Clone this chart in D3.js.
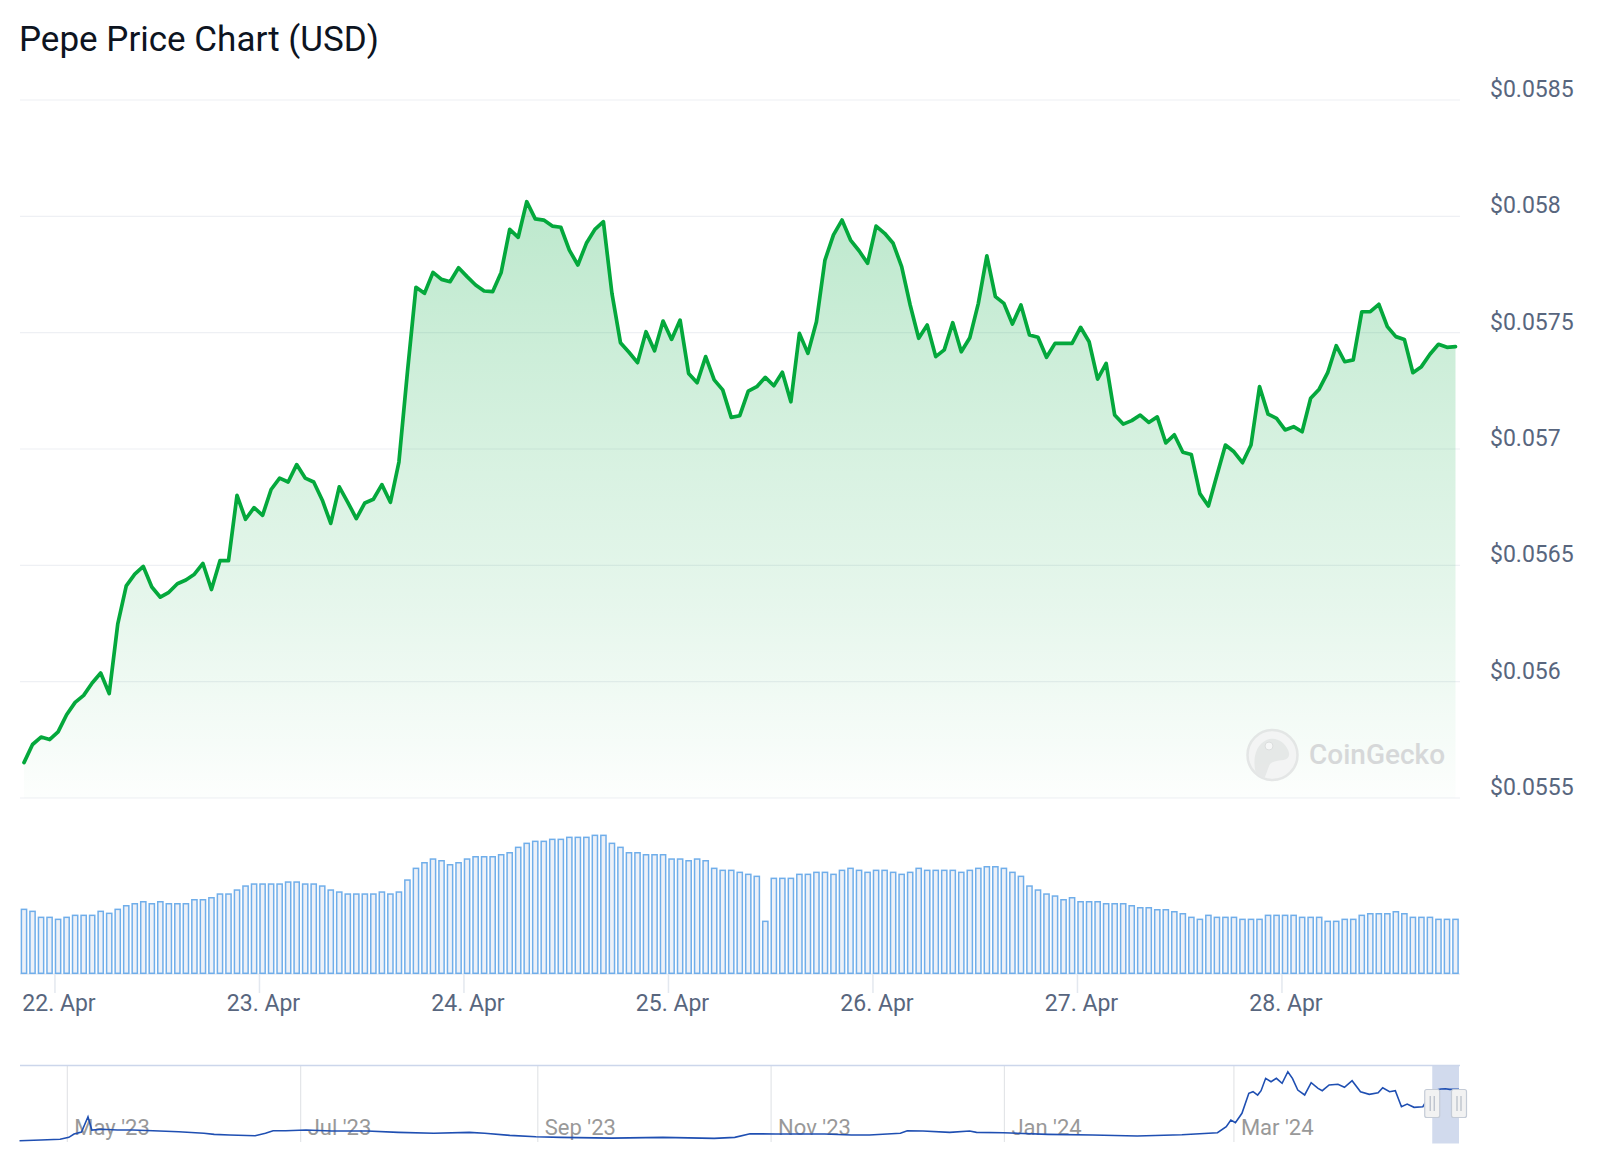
<!DOCTYPE html>
<html><head><meta charset="utf-8">
<script src="https://cdn.jsdelivr.net/npm/d3@7"></script>
<style>
body{margin:0;background:#fff;}
svg{display:block;font-family:Roboto,"Noto Sans",sans-serif;}
</style>
</head><body>
<svg id="chart" width="1600" height="1168"></svg>
<script>
// ---------------- DATA ----------------
const chartTitle = "Pepe Price Chart (USD)";
const firstTimestamp = "2024-04-21T20:22:00Z"; // hourly points
const prices = [
0.055652,0.055730,0.055762,0.055751,0.055784,0.055858,0.055911,0.055941,0.055994,0.056037,
0.055949,0.056247,0.056412,0.056462,0.056495,0.056407,0.056363,0.056384,0.056421,0.056437,
0.056462,0.056508,0.056396,0.056520,0.056520,0.056801,0.056698,0.056748,0.056715,0.056826,
0.056875,0.056858,0.056933,0.056875,0.056858,0.056781,0.056680,0.056837,0.056771,0.056701,
0.056768,0.056784,0.056847,0.056771,0.056944,0.057331,0.057695,0.057669,0.057759,0.057729,
0.057719,0.057779,0.057741,0.057705,0.057679,0.057676,0.057759,0.057944,0.057910,0.058063,
0.057989,0.057984,0.057958,0.057953,0.057855,0.057791,0.057884,0.057944,0.057977,0.057669,
0.057457,0.057416,0.057371,0.057504,0.057422,0.057550,0.057471,0.057554,0.057325,0.057285,
0.057397,0.057297,0.057254,0.057136,0.057143,0.057249,0.057268,0.057308,0.057272,0.057330,
0.057203,0.057497,0.057411,0.057547,0.057812,0.057920,0.057984,0.057898,0.057852,0.057798,
0.057958,0.057927,0.057884,0.057784,0.057619,0.057476,0.057533,0.057397,0.057426,0.057543,
0.057418,0.057478,0.057626,0.057830,0.057655,0.057626,0.057537,0.057619,0.057490,0.057480,
0.057394,0.057454,0.057454,0.057454,0.057523,0.057461,0.057300,0.057368,0.057146,0.057107,
0.057122,0.057146,0.057114,0.057138,0.057026,0.057061,0.056986,0.056976,0.056808,0.056755,
0.056887,0.057017,0.056988,0.056941,0.057017,0.057268,0.057150,0.057132,0.057082,0.057096,
0.057074,0.057218,0.057257,0.057328,0.057444,0.057375,0.057383,0.057590,0.057590,0.057622,
0.057526,0.057483,0.057471,0.057328,0.057354,0.057407,0.057450,0.057437,0.057440
];
const volumes = [
64.7,62.7,56.7,56.7,54.7,56.7,58.7,58.7,58.7,62.7,60.7,64.7,68.3,70.3,72.3,70.3,72.3,70.3,70.3,70.3,
74.3,74.3,76.3,80,80,84,88,90,90,90,90,92,92,90,90,88,84,82,80,80,80,80,82,80,82,94,105.7,111.3,115,113.3,
109.3,111.3,115,117.3,117.3,117.3,119.3,121.3,126.7,130.7,132.7,132.7,134.7,134.7,136.7,136.7,136.7,138.7,138.7,130.7,
126.7,121.3,121.3,119.3,119.3,119.3,115,115,113.3,115,113.3,105.7,103.7,103.7,101.7,99.7,97.7,52.7,95.7,95.7,
95.7,99.7,99.7,101.7,101.7,99.7,103.7,105.7,103.7,101.7,103.7,103.7,101.7,99.7,101.7,105.7,103.7,103.7,103.7,103.7,
101.7,103.7,105.7,107.3,107.3,105.7,101.7,97.7,88,84,80,78,74.3,76.3,72.3,72.3,72.3,70.3,70.3,70.3,
68.3,66.3,66.3,64.3,64.3,62.3,60.3,56.7,54.7,58.7,56.7,56.7,56.7,54.7,54.7,54.7,58.7,58.7,58.7,58.7,
56.7,56.7,56.7,52.7,52.7,54.7,54.7,58.7,60.3,60.3,60.3,62.3,60.3,56.7,56.7,56.7,54.7,54.7,54.7
];
const priceTicks = [0.0555,0.056,0.0565,0.057,0.0575,0.058,0.0585];

// navigator (full history), days relative to navBaseDate
const navBaseDate = "2023-05-01T00:00:00Z";
const navStartDate = "2023-04-18T15:00:00Z";
const navDays = [-12.5,-6.9,-1.9,0.4,1.75,3.7,5.4,6.4,9.1,13.1,17.1,22.4,29.1,35.7,38.4,42.4,49.1,51.8,53.8,57.1,
62.4,69.1,78.4,86.5,95.8,105.1,109.1,115.7,122.5,129.1,142.4,155.7,169.1,174.5,178.5,185.2,198,205,209.7,217.8,
219.6,223.7,230.7,235.9,237.7,244.7,256.4,268,279.7,291.4,300.7,303,304.2,305.4,307.1,308.9,310,311.2,312.1,313.3,
314.7,316.1,317.6,319.1,320.3,321.7,323.5,325.2,327,328.1,329.9,332.2,333.9,335.9,338.1,340.4,342.7,343.9,345.7,347.2,
348.8,350.3,352.1,354.4,356.9,358.2,359.1,360.3,361.4,363.85];
const navValues = [0.0025,0.0032,0.0040,0.0061,0.0096,0.0118,0.0281,0.0139,0.0147,0.0139,0.0139,0.0132,0.0121,0.0104,0.0093,0.0086,0.0078,0.0104,0.0132,0.0132,
0.0139,0.0128,0.0128,0.0114,0.0104,0.0114,0.0104,0.0082,0.0067,0.0061,0.0053,0.0061,0.0050,0.0061,0.0100,0.0096,0.0096,0.0086,0.0086,0.0104,
0.0132,0.0128,0.0114,0.0128,0.0114,0.0110,0.0093,0.0086,0.0075,0.0089,0.0110,0.0174,0.0246,0.0217,0.0318,0.0532,0.0549,0.0513,0.0560,0.0692,
0.0656,0.0692,0.0639,0.0763,0.0692,0.0567,0.0514,0.0645,0.0585,0.0560,0.0621,0.0628,0.0596,0.0667,0.0549,0.0521,0.0538,0.0592,0.0549,0.0560,
0.0388,0.0417,0.0382,0.0388,0.0557,0.0569,0.0578,0.0580,0.0574,0.0574];
const navMonthTicks = ["2023-05-01","2023-07-01","2023-09-01","2023-11-01","2024-01-01","2024-03-01"];

// ---------------- CHART ----------------
const svg = d3.select("#chart");
const HOUR = 3600e3;
const t0 = new Date(firstTimestamp);
const times = prices.map((_, i) => new Date(+t0 + i * HOUR));
const tEnd = times[times.length - 1];

const x = d3.scaleUtc().domain([t0, tEnd]).range([24, 1455.5]);
const y = d3.scaleLinear().domain([0.0555, 0.0585]).range([798, 100]);
const vY = d3.scaleLinear().domain([0, 150]).range([973.3, 823.3]);

const green = "#04a83c";
const labelColor = "#58667e";

// title
svg.append("text").attr("x", 19).attr("y", 51).attr("font-size", 35)
  .attr("fill", "#0d1421").text(chartTitle);

// gradient
const defs = svg.append("defs");
const grad = defs.append("linearGradient").attr("id", "areaGrad")
  .attr("gradientUnits", "userSpaceOnUse").attr("x1", 0).attr("x2", 0)
  .attr("y1", y(0.0585)).attr("y2", y(0.0555));
grad.append("stop").attr("offset", 0).attr("stop-color", "#00a83e").attr("stop-opacity", 0.3);
grad.append("stop").attr("offset", 0.75).attr("stop-color", "#00a83e").attr("stop-opacity", 0.09);
grad.append("stop").attr("offset", 1).attr("stop-color", "#00a83e").attr("stop-opacity", 0.01);

// grid + y labels
const grid = svg.append("g");
priceTicks.forEach(p => {
  grid.append("line").attr("x1", 20).attr("x2", 1460).attr("y1", y(p)).attr("y2", y(p))
    .attr("stroke", "#eef0f4").attr("stroke-width", 1.2);
  grid.append("text").attr("x", 1490).attr("y", y(p) - 3).attr("font-size", 23)
    .attr("fill", labelColor).text(d3.format("$.4~f")(p));
});

// area + line
const pts = prices.map((p, i) => [times[i], p]);
svg.append("path").datum(pts).attr("fill", "url(#areaGrad)")
  .attr("d", d3.area().x(d => x(d[0])).y0(y(0.0555)).y1(d => y(d[1])));

// watermark
const wm = svg.append("g").attr("opacity", 0.9);
wm.append("circle").attr("cx", 1272.5).attr("cy", 755).attr("r", 25)
  .attr("fill", "#f3f4f4").attr("stroke", "#e2e4e4").attr("stroke-width", 2.5);
wm.append("path").attr("transform", "translate(1272.5,755)")
  .attr("d", "M-17,17 C-20,4 -17,-10 -6,-15 C4,-19 12,-12 15,-6 C18,-1 17,4 11,5 C5,6 -1,6 -3,10 C-5,14 -6,19 -8,23 C-12,22 -15,20 -17,17 Z")
  .attr("fill", "#e4e6e6");
wm.append("circle").attr("cx", 1269).attr("cy", 746).attr("r", 4).attr("fill", "#f6f7f7").attr("stroke", "#d9dbdb");
wm.append("text").attr("x", 1309).attr("y", 764).attr("font-size", 28).attr("font-weight", 500)
  .attr("fill", "#d3d5d6").text("CoinGecko");

svg.append("path").datum(pts).attr("fill", "none").attr("stroke", green)
  .attr("stroke-width", 3.7).attr("stroke-linejoin", "round").attr("stroke-linecap", "round")
  .attr("d", d3.line().x(d => x(d[0])).y(d => y(d[1])));

// volume bars
svg.append("line").attr("x1", 20).attr("x2", 1460).attr("y1", 974).attr("y2", 974)
  .attr("stroke", "#e8edf3").attr("stroke-width", 1.5);
svg.append("g").selectAll("rect").data(volumes).join("rect")
  .attr("x", (v, i) => x(times[i]) - 2.6)
  .attr("width", 5.2)
  .attr("y", v => vY(v) + 0.75)
  .attr("height", v => vY(0) - vY(v) - 0.75)
  .attr("fill", "#edf1f8").attr("stroke", "#70aeea").attr("stroke-width", 1.5);

// x axis (days)
const days = d3.utcDay.range(d3.utcDay.ceil(t0), tEnd);
const xa = svg.append("g");
days.forEach(d => {
  xa.append("line").attr("x1", x(d)).attr("x2", x(d)).attr("y1", 974).attr("y2", 993)
    .attr("stroke", "#e3e8ef").attr("stroke-width", 1.5);
  xa.append("text").attr("x", x(d) + 4).attr("y", 1011).attr("text-anchor", "middle")
    .attr("font-size", 23).attr("fill", labelColor).text(d3.utcFormat("%-d. %b")(d));
});

// ---------------- NAVIGATOR ----------------
const navBase = new Date(navBaseDate);
const navPts = navDays.map((d, i) => [new Date(+navBase + d * 86400e3), navValues[i]]);
const nx = d3.scaleUtc().domain([new Date(navStartDate), tEnd]).range([20, 1459]);
const ny = d3.scaleLinear().domain(d3.extent(navValues)).range([1140.7, 1071.7]);
const nav = svg.append("g");
navMonthTicks.forEach(s => {
  const d = new Date(s + "T00:00:00Z");
  nav.append("line").attr("x1", nx(d)).attr("x2", nx(d)).attr("y1", 1066).attr("y2", 1142)
    .attr("stroke", "#e3e5e8").attr("stroke-width", 1.2);
  nav.append("text").attr("x", nx(d) + 7).attr("y", 1135).attr("font-size", 22)
    .attr("fill", "#999").text(d3.utcFormat("%b '%y")(d));
});
nav.append("rect").attr("x", nx(t0)).attr("y", 1065.5).attr("width", nx(tEnd) - nx(t0)).attr("height", 78)
  .attr("fill", "rgba(102,133,194,0.3)");
nav.append("path").datum(navPts).attr("fill", "none").attr("stroke", "#1f4fb2").attr("stroke-width", 1.6)
  .attr("d", d3.line().x(d => nx(d[0])).y(d => ny(d[1])));
nav.append("line").attr("x1", 20).attr("x2", 1460).attr("y1", 1065.5).attr("y2", 1065.5)
  .attr("stroke", "#ccd6eb").attr("stroke-width", 1.5);
[t0, tEnd].forEach(t => {
  const cx = nx(t);
  nav.append("rect").attr("x", cx - 7.5).attr("y", 1089.5).attr("width", 15).attr("height", 28).attr("rx", 2)
    .attr("fill", "#f2f2f2").attr("stroke", "#c4cbd6").attr("stroke-width", 1.2);
  [-2, 2].forEach(o => nav.append("line").attr("x1", cx + o).attr("x2", cx + o)
    .attr("y1", 1096).attr("y2", 1111).attr("stroke", "#b5bcc7").attr("stroke-width", 1.2));
});
</script>
</body></html>
